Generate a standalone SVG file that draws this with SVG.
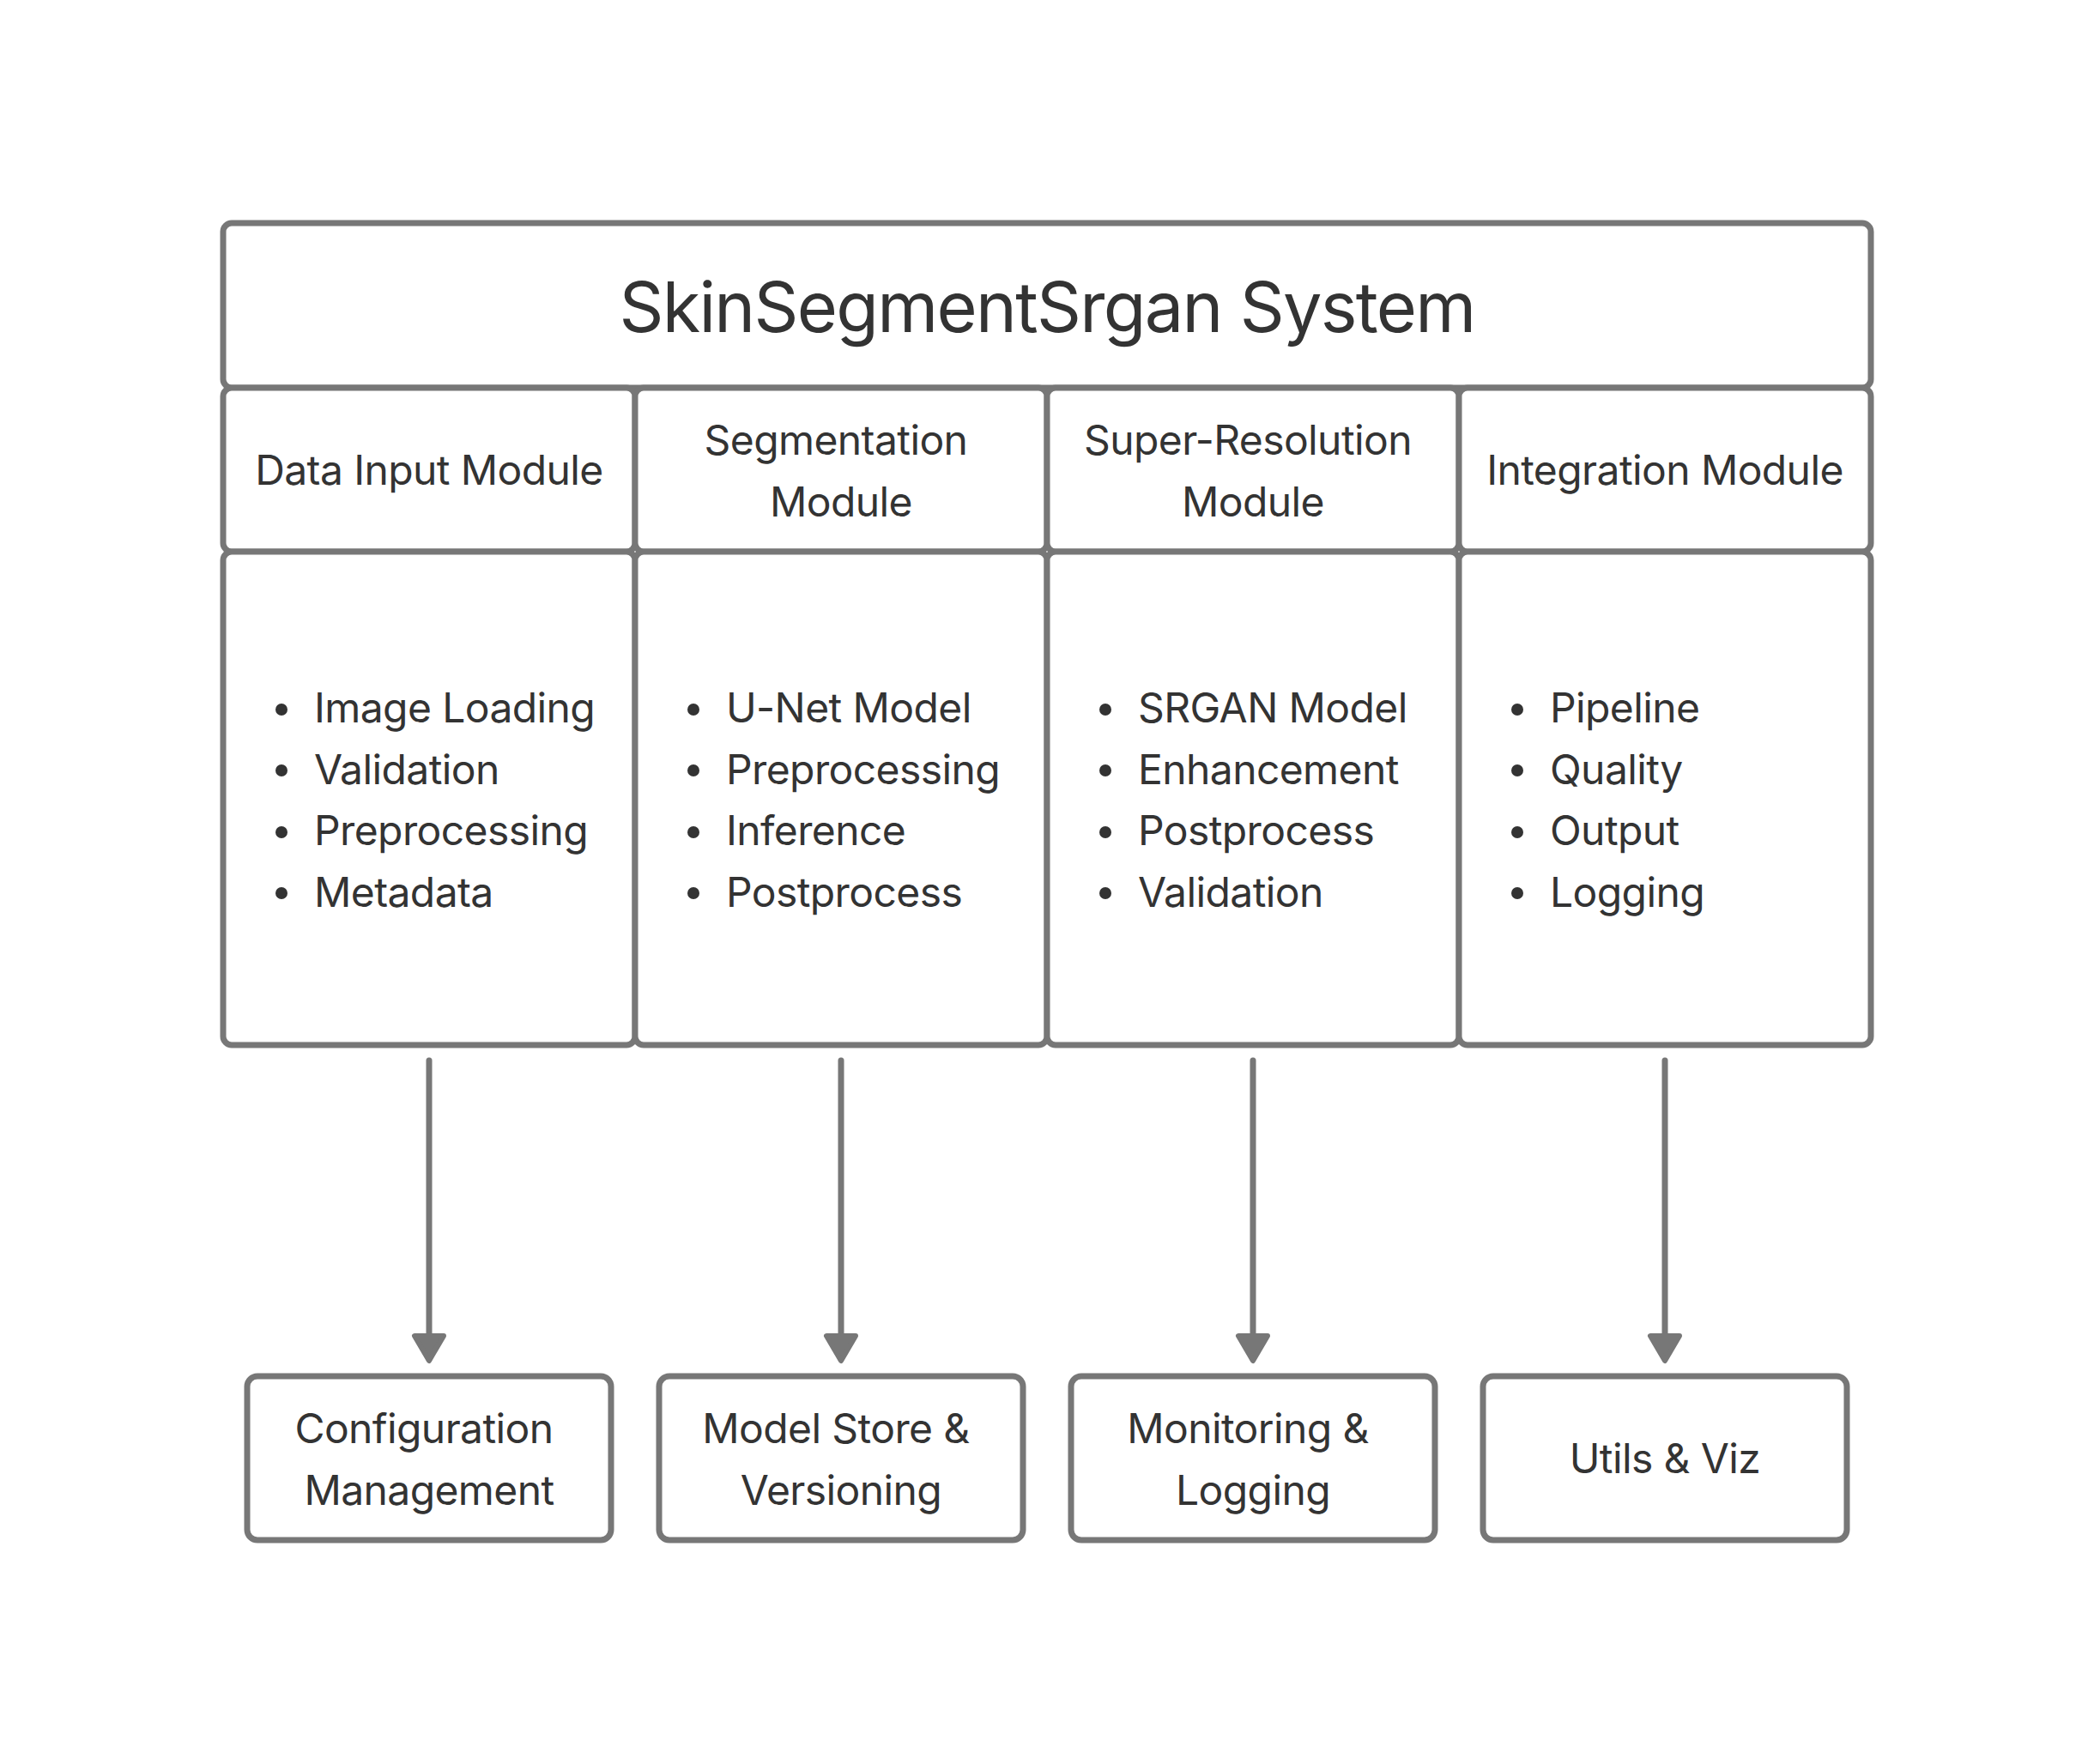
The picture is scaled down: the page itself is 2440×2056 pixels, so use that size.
<svg xmlns="http://www.w3.org/2000/svg" width="2440" height="2056" viewBox="0 0 2440 2056">
  <style>
    .box { fill: #ffffff; stroke: #777777; stroke-width: 7; }
    .t { font-family: Inter, "Liberation Sans", sans-serif; fill: #333333; font-size: 48px; letter-spacing: -0.6px; }
    .c { text-anchor: middle; }
    .title { font-size: 81px; letter-spacing: -1.7px; }
    .dot { fill: #333333; }
    .conn line { stroke: #777777; stroke-width: 7; stroke-linecap: round; }
    .conn path { fill: #777777; stroke: #777777; stroke-width: 6; stroke-linejoin: round; }
  </style>
  <rect width="2440" height="2056" fill="#ffffff"/>

  <g id="title">
    <rect class="box" x="260" y="260" width="1920" height="192" rx="10"/>
    <text class="t c title" x="1220" y="387">SkinSegmentSrgan System</text>
  </g>

  <g id="hdr-data-input">
    <rect class="box" x="260" y="452" width="480" height="191" rx="10"/>
    <text class="t c" x="500" y="565">Data Input Module</text>
  </g>
  <g id="hdr-segmentation">
    <rect class="box" x="740" y="452" width="480" height="191" rx="10"/>
    <text class="t c" x="974" y="530">Segmentation</text>
    <text class="t c" x="980" y="602">Module</text>
  </g>
  <g id="hdr-super-resolution">
    <rect class="box" x="1220" y="452" width="480" height="191" rx="10"/>
    <text class="t c" x="1454" y="530">Super-Resolution</text>
    <text class="t c" x="1460" y="602">Module</text>
  </g>
  <g id="hdr-integration">
    <rect class="box" x="1700" y="452" width="480" height="191" rx="10"/>
    <text class="t c" x="1940" y="565">Integration Module</text>
  </g>

  <g id="list-data-input">
    <rect class="box" x="260" y="643" width="480" height="575" rx="10"/>
    <circle class="dot" cx="328" cy="827" r="7"/>
    <circle class="dot" cx="328" cy="898" r="7"/>
    <circle class="dot" cx="328" cy="970" r="7"/>
    <circle class="dot" cx="328" cy="1041" r="7"/>
    <text class="t" x="366" y="842">Image Loading</text>
    <text class="t" x="366" y="914">Validation</text>
    <text class="t" x="366" y="985">Preprocessing</text>
    <text class="t" x="366" y="1057">Metadata</text>
  </g>
  <g id="list-segmentation">
    <rect class="box" x="740" y="643" width="480" height="575" rx="10"/>
    <circle class="dot" cx="808" cy="827" r="7"/>
    <circle class="dot" cx="808" cy="898" r="7"/>
    <circle class="dot" cx="808" cy="970" r="7"/>
    <circle class="dot" cx="808" cy="1041" r="7"/>
    <text class="t" x="846" y="842">U-Net Model</text>
    <text class="t" x="846" y="914">Preprocessing</text>
    <text class="t" x="846" y="985">Inference</text>
    <text class="t" x="846" y="1057">Postprocess</text>
  </g>
  <g id="list-super-resolution">
    <rect class="box" x="1220" y="643" width="480" height="575" rx="10"/>
    <circle class="dot" cx="1288" cy="827" r="7"/>
    <circle class="dot" cx="1288" cy="898" r="7"/>
    <circle class="dot" cx="1288" cy="970" r="7"/>
    <circle class="dot" cx="1288" cy="1041" r="7"/>
    <text class="t" x="1326" y="842">SRGAN Model</text>
    <text class="t" x="1326" y="914">Enhancement</text>
    <text class="t" x="1326" y="985">Postprocess</text>
    <text class="t" x="1326" y="1057">Validation</text>
  </g>
  <g id="list-integration">
    <rect class="box" x="1700" y="643" width="480" height="575" rx="10"/>
    <circle class="dot" cx="1768" cy="827" r="7"/>
    <circle class="dot" cx="1768" cy="898" r="7"/>
    <circle class="dot" cx="1768" cy="970" r="7"/>
    <circle class="dot" cx="1768" cy="1041" r="7"/>
    <text class="t" x="1806" y="842">Pipeline</text>
    <text class="t" x="1806" y="914">Quality</text>
    <text class="t" x="1806" y="985">Output</text>
    <text class="t" x="1806" y="1057">Logging</text>
  </g>

  <g id="connectors" class="conn">
    <line x1="500" y1="1236" x2="500" y2="1560"/>
    <path d="M483,1557 L517,1557 L500,1586 Z"/>
    <line x1="980" y1="1236" x2="980" y2="1560"/>
    <path d="M963,1557 L997,1557 L980,1586 Z"/>
    <line x1="1460" y1="1236" x2="1460" y2="1560"/>
    <path d="M1443,1557 L1477,1557 L1460,1586 Z"/>
    <line x1="1940" y1="1236" x2="1940" y2="1560"/>
    <path d="M1923,1557 L1957,1557 L1940,1586 Z"/>
  </g>

  <g id="config-mgmt">
    <rect class="box" x="288" y="1604" width="424" height="191" rx="12"/>
    <text class="t c" x="494" y="1682">Configuration</text>
    <text class="t c" x="500" y="1754">Management</text>
  </g>
  <g id="model-store">
    <rect class="box" x="768" y="1604" width="424" height="191" rx="12"/>
    <text class="t c" x="974" y="1682">Model Store &amp;</text>
    <text class="t c" x="980" y="1754">Versioning</text>
  </g>
  <g id="monitoring">
    <rect class="box" x="1248" y="1604" width="424" height="191" rx="12"/>
    <text class="t c" x="1454" y="1682">Monitoring &amp;</text>
    <text class="t c" x="1460" y="1754">Logging</text>
  </g>
  <g id="utils-viz">
    <rect class="box" x="1728" y="1604" width="424" height="191" rx="12"/>
    <text class="t c" x="1940" y="1717">Utils &amp; Viz</text>
  </g>
</svg>
